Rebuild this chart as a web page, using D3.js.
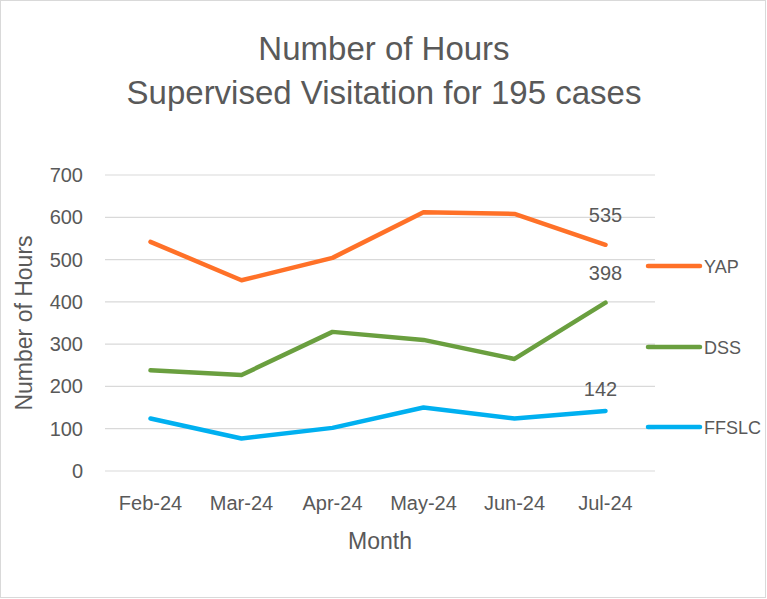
<!DOCTYPE html>
<meta charset="utf-8">
<script src="https://d3js.org/d3.v7.min.js"></script>
<style>
  body { margin: 0; background: #fff; }
  text { font-family: "Liberation Sans", "DejaVu Sans", sans-serif; fill: #595959; }
</style>
<svg id="chart" width="767" height="599"></svg>
<script>
  var months = ["Feb-24", "Mar-24", "Apr-24", "May-24", "Jun-24", "Jul-24"];
  var seriesNames = ["YAP", "DSS", "FFSLC"];
  var yap = [542, 451, 504, 612, 608, 535];
  var dss = [238, 227, 329, 310, 265, 398];
  var ffslc = [124, 77, 102, 150, 124, 142];
  var colors = ["#FF7128", "#6A9F3F", "#00B0F0"];
  var yTicks = [0, 100, 200, 300, 400, 500, 600, 700];

  var svg = d3.select("#chart");

  // outer border
  svg.append("rect")
    .attr("x", 0.5).attr("y", 0.5)
    .attr("width", 765).attr("height", 597)
    .attr("fill", "#fff")
    .attr("stroke", "#d9d9d9");

  var x = d3.scaleBand().domain(months).range([105, 651]);
  var y = d3.scaleLinear().domain([0, 700]).range([471, 175]);

  // gridlines
  svg.append("g")
    .selectAll("line")
    .data(yTicks)
    .enter()
    .append("line")
    .attr("x1", 105).attr("x2", 655)
    .attr("y1", function (d) { return y(d); })
    .attr("y2", function (d) { return y(d); })
    .attr("stroke", "#d9d9d9")
    .attr("stroke-width", 1.2);

  // y axis labels
  svg.append("g")
    .selectAll("text")
    .data(yTicks)
    .enter()
    .append("text")
    .attr("x", 83)
    .attr("y", function (d) { return y(d) + 7; })
    .attr("text-anchor", "end")
    .style("font-size", "20px")
    .text(function (d) { return d; });

  // x axis labels
  svg.append("g")
    .selectAll("text")
    .data(months)
    .enter()
    .append("text")
    .attr("x", function (d) { return x(d) + x.bandwidth() / 2; })
    .attr("y", 510)
    .attr("text-anchor", "middle")
    .style("font-size", "20px")
    .text(function (d) { return d; });

  // titles
  svg.append("text")
    .attr("x", 384).attr("y", 60)
    .attr("text-anchor", "middle")
    .style("font-size", "33px")
    .text("Number of Hours");
  svg.append("text")
    .attr("x", 384).attr("y", 104)
    .attr("text-anchor", "middle")
    .style("font-size", "33px")
    .text("Supervised Visitation for 195 cases");

  svg.append("text")
    .attr("x", 380).attr("y", 549)
    .attr("text-anchor", "middle")
    .style("font-size", "23px")
    .text("Month");

  svg.append("text")
    .attr("transform", "translate(32,323) rotate(-90)")
    .attr("text-anchor", "middle")
    .style("font-size", "23px")
    .text("Number of Hours");

  var allSeries = [yap, dss, ffslc];
  var line = d3.line()
    .x(function (d, i) { return x(months[i]) + x.bandwidth() / 2; })
    .y(function (d) { return y(d); });

  svg.append("g")
    .selectAll("path")
    .data(allSeries)
    .enter()
    .append("path")
    .attr("d", line)
    .attr("fill", "none")
    .attr("stroke", function (d, i) { return colors[i]; })
    .attr("stroke-width", 4.5)
    .attr("stroke-linecap", "round")
    .attr("stroke-linejoin", "round");

  // last value labels
  var lastX = x(months[5]) + x.bandwidth() / 2;
  svg.append("g")
    .selectAll("text")
    .data(allSeries)
    .enter()
    .append("text")
    .attr("x", function (d, i) { return i == 2 ? lastX - 5 : lastX; })
    .attr("y", function (d, i) { return y(d[5]) - (i == 2 ? 15 : 23); })
    .attr("text-anchor", "middle")
    .style("font-size", "20px")
    .text(function (d) { return d[5]; });

  // legend
  var legendY = [266, 347, 427];
  var legend = svg.append("g")
    .selectAll("g")
    .data(seriesNames)
    .enter()
    .append("g")
    .attr("transform", function (d, i) { return "translate(0," + legendY[i] + ")"; });
  legend.append("line")
    .attr("x1", 648).attr("x2", 700)
    .attr("stroke", function (d, i) { return colors[i]; })
    .attr("stroke-width", 4.5)
    .attr("stroke-linecap", "round");
  legend.append("text")
    .attr("x", 704).attr("y", 7)
    .style("font-size", "18px")
    .text(function (d) { return d; });
</script>
